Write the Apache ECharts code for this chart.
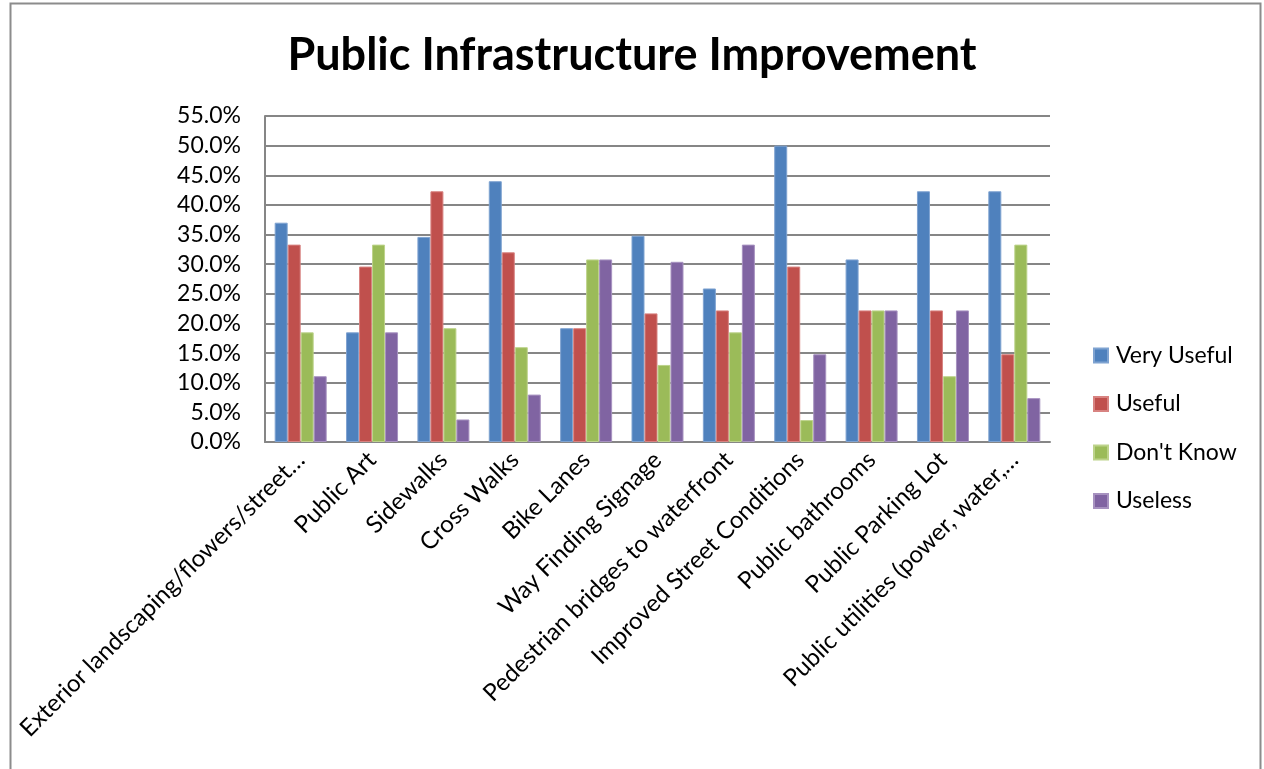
<!DOCTYPE html>
<html>
<head>
<meta charset="utf-8">
<script src="https://cdn.jsdelivr.net/npm/echarts@6/dist/echarts.min.js"></script>
<style>
  html, body { margin: 0; padding: 0; background: #fff; }
  #chart { width: 1264px; height: 769px; }
</style>
</head>
<body>
<div id="chart"></div>
<script>
// Survey categories
const categories = [
  'Exterior landscaping/flowers/street…',
  'Public Art',
  'Sidewalks',
  'Cross Walks',
  'Bike Lanes',
  'Way Finding Signage',
  'Pedestrian bridges to waterfront',
  'Improved Street Conditions',
  'Public bathrooms',
  'Public Parking Lot',
  'Public utilities (power, water,…'
];

// Share of responses per rating (percent)
const veryUseful = [37.0, 18.5, 34.6, 44.0, 19.2, 34.8, 25.9, 50.0, 30.8, 42.3, 42.3];
const useful     = [33.3, 29.6, 42.3, 32.0, 19.2, 21.7, 22.2, 29.6, 22.2, 22.2, 14.8];
const dontKnow   = [18.5, 33.3, 19.2, 16.0, 30.8, 13.0, 18.5, 3.7, 22.2, 11.1, 33.3];
const useless    = [11.1, 18.5, 3.8, 8.0, 30.8, 30.4, 33.3, 14.8, 22.2, 22.2, 7.4];

const seriesNames = ['Very Useful', 'Useful', "Don't Know", 'Useless'];
const seriesColors = ['#4F81BD', '#C0504D', '#9BBB59', '#8064A2'];
const seriesBorders = ['#7FA3D1', '#D88381', '#BDD38B', '#A792C0'];

const font = 'Lato, "Open Sans", sans-serif';

const chart = echarts.init(document.getElementById('chart'), null, { renderer: 'canvas' });

const series = [veryUseful, useful, dontKnow, useless].map((data, i) => ({
  name: seriesNames[i],
  type: 'bar',
  data: data,
  barWidth: 13,
  barGap: '0%',
  itemStyle: { color: seriesColors[i], borderColor: seriesBorders[i], borderWidth: 1 },
  emphasis: { disabled: true }
}));

chart.setOption({
  animation: false,
  backgroundColor: '#fff',
  title: {
    text: 'Public Infrastructure Improvement',
    left: 'center',
    top: 28,
    textStyle: { fontFamily: font, fontSize: 45, fontWeight: 'bold', color: '#000' }
  },
  graphic: [{
    type: 'rect',
    shape: { x: 10.5, y: 3.5, width: 1250, height: 780 },
    style: { fill: 'none', stroke: '#8c8c8c', lineWidth: 2 },
    silent: true
  }],
  legend: {
    orient: 'vertical',
    left: 1093,
    top: 344,
    padding: 0,
    itemWidth: 14,
    itemHeight: 14,
    itemGap: 25.5,
    icon: 'rect',
    data: seriesNames,
    textStyle: { fontFamily: font, fontSize: 23, color: '#000', padding: [0, 0, 0, 3] }
  },
  grid: { left: 265, right: 214, top: 116, bottom: 327 },
  xAxis: {
    type: 'category',
    data: categories,
    axisLine: { lineStyle: { color: '#868686', width: 2 } },
    axisTick: { show: true, length: 0, alignWithLabel: false },
    axisLabel: {
      rotate: 45,
      interval: 0,
      margin: 14,
      fontFamily: font,
      fontSize: 24,
      color: '#000'
    }
  },
  yAxis: {
    type: 'value',
    min: 0,
    max: 55,
    interval: 5,
    axisLine: { show: true, lineStyle: { color: '#868686', width: 2 } },
    axisTick: { show: false },
    splitLine: { lineStyle: { color: '#868686', width: 2 } },
    axisLabel: {
      formatter: v => v.toFixed(1) + '%',
      margin: 24,
      fontFamily: font,
      fontSize: 23,
      color: '#000'
    }
  },
  series: series
});
</script>
</body>
</html>
